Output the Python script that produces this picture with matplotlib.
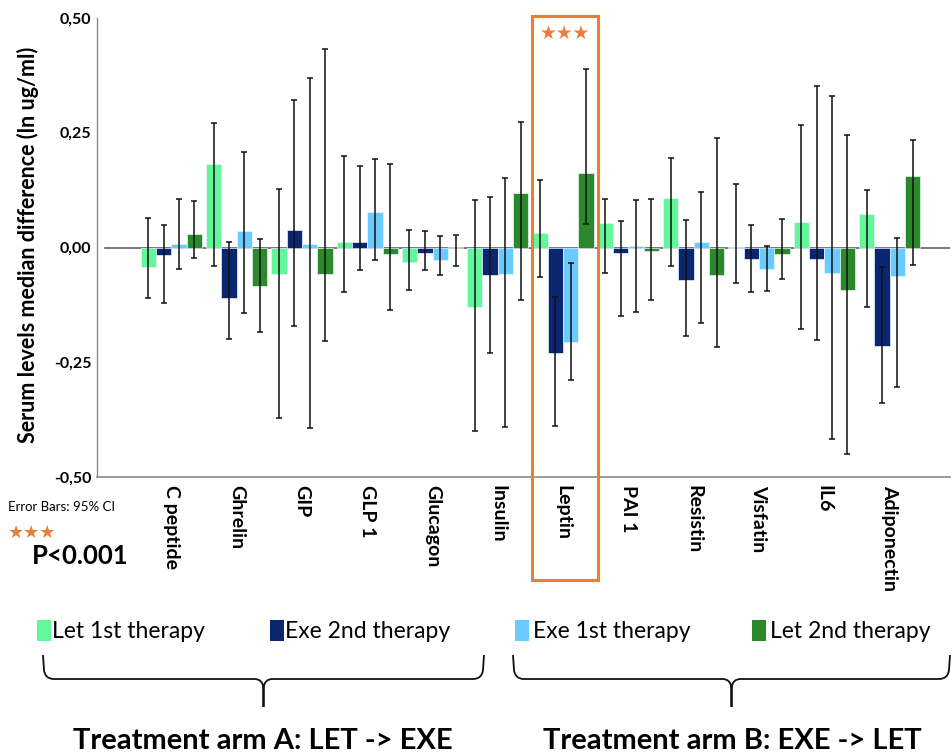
import matplotlib
matplotlib.use("Agg")
import matplotlib.pyplot as plt
import matplotlib.transforms as mtransforms
from matplotlib.path import Path
from matplotlib.patches import PathPatch, Rectangle
import numpy as np

# ---- data: median difference (ln ug/ml) with 95% CI bounds ----
categories = ["C peptide", "Ghrelin", "GIP", "GLP 1", "Glucagon", "Insulin",
              "Leptin", "PAI 1", "Resistin", "Visfatin", "IL6", "Adiponectin"]

let1    = [-0.043, 0.183, -0.057, 0.012, -0.032, -0.129, 0.031, 0.054, 0.107, 0.002, 0.056, 0.072]
let1_lo = [-0.109, -0.041, -0.371, -0.096, -0.092, -0.399, -0.065, -0.056, -0.041, -0.077, -0.177, -0.130]
let1_hi = [0.065, 0.272, 0.128, 0.199, 0.038, 0.103, 0.146, 0.105, 0.194, 0.138, 0.267, 0.125]

exe2    = [-0.017, -0.109, 0.038, 0.011, -0.011, -0.061, -0.230, -0.013, -0.070, -0.025, -0.025, -0.215]
exe2_lo = [-0.120, -0.200, -0.172, -0.048, -0.050, -0.230, -0.389, -0.150, -0.192, -0.097, -0.202, -0.338]
exe2_hi = [0.049, 0.012, 0.322, 0.178, 0.035, 0.111, -0.107, 0.057, 0.059, 0.048, 0.351, -0.043]

exe1    = [0.008, 0.037, 0.008, 0.077, -0.028, -0.057, -0.205, 0.003, 0.012, -0.046, -0.056, -0.063]
exe1_lo = [-0.047, -0.142, -0.393, -0.028, -0.059, -0.391, -0.288, -0.141, -0.165, -0.095, -0.417, -0.305]
exe1_hi = [0.106, 0.208, 0.370, 0.192, 0.025, 0.152, -0.034, 0.104, 0.121, 0.003, 0.330, 0.020]

let2    = [0.029, -0.083, -0.057, -0.015, 0.002, 0.118, 0.162, -0.008, -0.059, -0.015, -0.092, 0.155]
let2_lo = [-0.022, -0.184, -0.204, -0.137, -0.041, -0.114, 0.052, -0.114, -0.216, -0.068, -0.450, -0.039]
let2_hi = [0.101, 0.018, 0.432, 0.182, 0.028, 0.273, 0.388, 0.105, 0.238, 0.062, 0.246, 0.234]

series_labels = ["Let 1st therapy", "Exe 2nd therapy", "Exe 1st therapy", "Let 2nd therapy"]
y_ticks = [-0.50, -0.25, 0.00, 0.25, 0.50]
y_tick_labels = ["-0,50", "-0,25", "0,00", "0,25", "0,50"]

colors = ["#62F79B", "#0B2670", "#69CBFF", "#2B892B"]
orange = "#ED7D31"

W, H = 952, 755
fig = plt.figure(figsize=(W / 100, H / 100), dpi=100)

BOLD = ["Lato", "DejaVu Sans"]
NARROW = ["Liberation Sans Narrow", "Lato", "DejaVu Sans"]


def px(x, y):
    """pixel coordinates (from top-left) -> figure fraction"""
    return x / W, 1 - y / H


ax = fig.add_axes([97 / W, (H - 477) / H, (950 - 97) / W, (477 - 18) / H])

x = np.arange(len(categories))
w = 0.235
series = [(let1, let1_lo, let1_hi), (exe2, exe2_lo, exe2_hi),
          (exe1, exe1_lo, exe1_hi), (let2, let2_lo, let2_hi)]

# zero reference line
ax.axhline(0, xmin=(105 - 97) / (950 - 97), xmax=1, color="#555555", lw=1.1, zorder=1)

for k, (vals, lo, hi) in enumerate(series):
    vals = np.array(vals)
    pos = x + (k - 1.5) * w
    ax.bar(pos, vals, width=w, color=colors[k], edgecolor="#E8F4FF", linewidth=0.5, zorder=2)
    yerr = np.vstack([vals - np.array(lo), np.array(hi) - vals])
    ax.errorbar(pos, vals, yerr=yerr, fmt="none", ecolor="#111111", elinewidth=1.1,
                capsize=2.5, capthick=1.1, zorder=3)

ax.set_xlim(-1.138, 11.925)
ax.set_ylim(-0.5, 0.5)
ax.set_yticks(y_ticks)
ax.set_yticklabels(y_tick_labels, fontsize=11.5, fontweight="bold", family=BOLD)
ax.set_xticks(x)
ax.set_xticklabels(categories, rotation=270, fontsize=14, fontweight="bold",
                   family=BOLD, va="top", ha="center")
ax.tick_params(axis="y", length=0, pad=4)
ax.tick_params(axis="x", length=0, pad=6)
for s in ("top", "right"):
    ax.spines[s].set_visible(False)
ax.spines["left"].set_color("#8A8A8A")
ax.spines["bottom"].set_color("#8A8A8A")
ax.spines["left"].set_linewidth(1.0)
ax.spines["bottom"].set_linewidth(1.2)

# y axis title
fx, fy = px(28, 245)
fig.text(fx, fy, "Serum levels median difference (ln ug/ml)", rotation=90,
         ha="center", va="center", fontsize=15.5, fontweight="bold", family=BOLD)

# highlight box around Leptin
blend = mtransforms.blended_transform_factory(ax.transData, fig.transFigure)
bx0, bx1 = 5.52, 6.53
by0, by1 = 1 - 580 / H, 1 - 16 / H
fig.add_artist(Rectangle((bx0, by0), bx1 - bx0, by1 - by0, transform=blend,
                         fill=False, edgecolor=orange, lw=2.2, clip_on=False))
fig.text((bx0 + bx1) / 2, 1 - 33 / H, "★★★", transform=blend, ha="center", va="center",
         color=orange, fontsize=13.5, family="DejaVu Sans")

# significance notes
fig.text(*px(8, 507), "Error Bars: 95% CI", ha="left", va="center", fontsize=9.5,
         family=["Lato", "DejaVu Sans"])
fig.text(*px(8, 533), "★★★", ha="left", va="center", color=orange, fontsize=13,
         family="DejaVu Sans")
fig.text(*px(32, 556), "P<0.001", ha="left", va="center", fontsize=18.5,
         fontweight="bold", family=BOLD)

# legend entries
legend_pos = [(37, 52), (270, 285), (515, 533), (752, 770)]
for k, (sx, tx) in enumerate(legend_pos):
    x0, y0 = px(sx, 641)
    fig.add_artist(Rectangle((x0, y0), 14 / W, 21 / H, transform=fig.transFigure,
                             facecolor=colors[k], edgecolor="none"))
    fig.text(*px(tx, 631), series_labels[k], ha="left", va="center", fontsize=16.5,
             family=NARROW)


def brace(x_left, x_right, y_top, y_mid, y_tip):
    xm = (x_left + x_right) / 2
    r = 9
    pts = [
        (x_left, y_top), (x_left + 1, y_mid - r),
        (x_left + 2, y_mid), (x_left + r + 2, y_mid),
        (xm - r, y_mid),
        (xm - 1, y_mid), (xm, y_mid + r),
        (xm, y_tip),
        (xm, y_tip),
        (xm, y_mid + r),
        (xm + 1, y_mid), (xm + r, y_mid),
        (x_right - r - 2, y_mid),
        (x_right - 2, y_mid), (x_right - 1, y_mid - r),
        (x_right, y_top),
    ]
    codes = [Path.MOVETO, Path.LINETO,
             Path.CURVE3, Path.CURVE3,
             Path.LINETO,
             Path.CURVE3, Path.CURVE3,
             Path.LINETO,
             Path.MOVETO,
             Path.LINETO,
             Path.CURVE3, Path.CURVE3,
             Path.LINETO,
             Path.CURVE3, Path.CURVE3,
             Path.LINETO]
    verts = [px(a, b) for a, b in pts]
    fig.add_artist(PathPatch(Path(verts, codes), transform=fig.transFigure,
                             fill=False, edgecolor="#111111", lw=1.3))


brace(43, 484, 655, 679, 707)
brace(513, 950, 655, 679, 707)

fig.text(*px(263, 741), "Treatment arm A: LET -> EXE", ha="center", va="center",
         fontsize=21, fontweight="bold", family=NARROW)
fig.text(*px(732, 741), "Treatment arm B: EXE -> LET", ha="center", va="center",
         fontsize=21, fontweight="bold", family=NARROW)

fig.savefig("out.png", dpi=100)
